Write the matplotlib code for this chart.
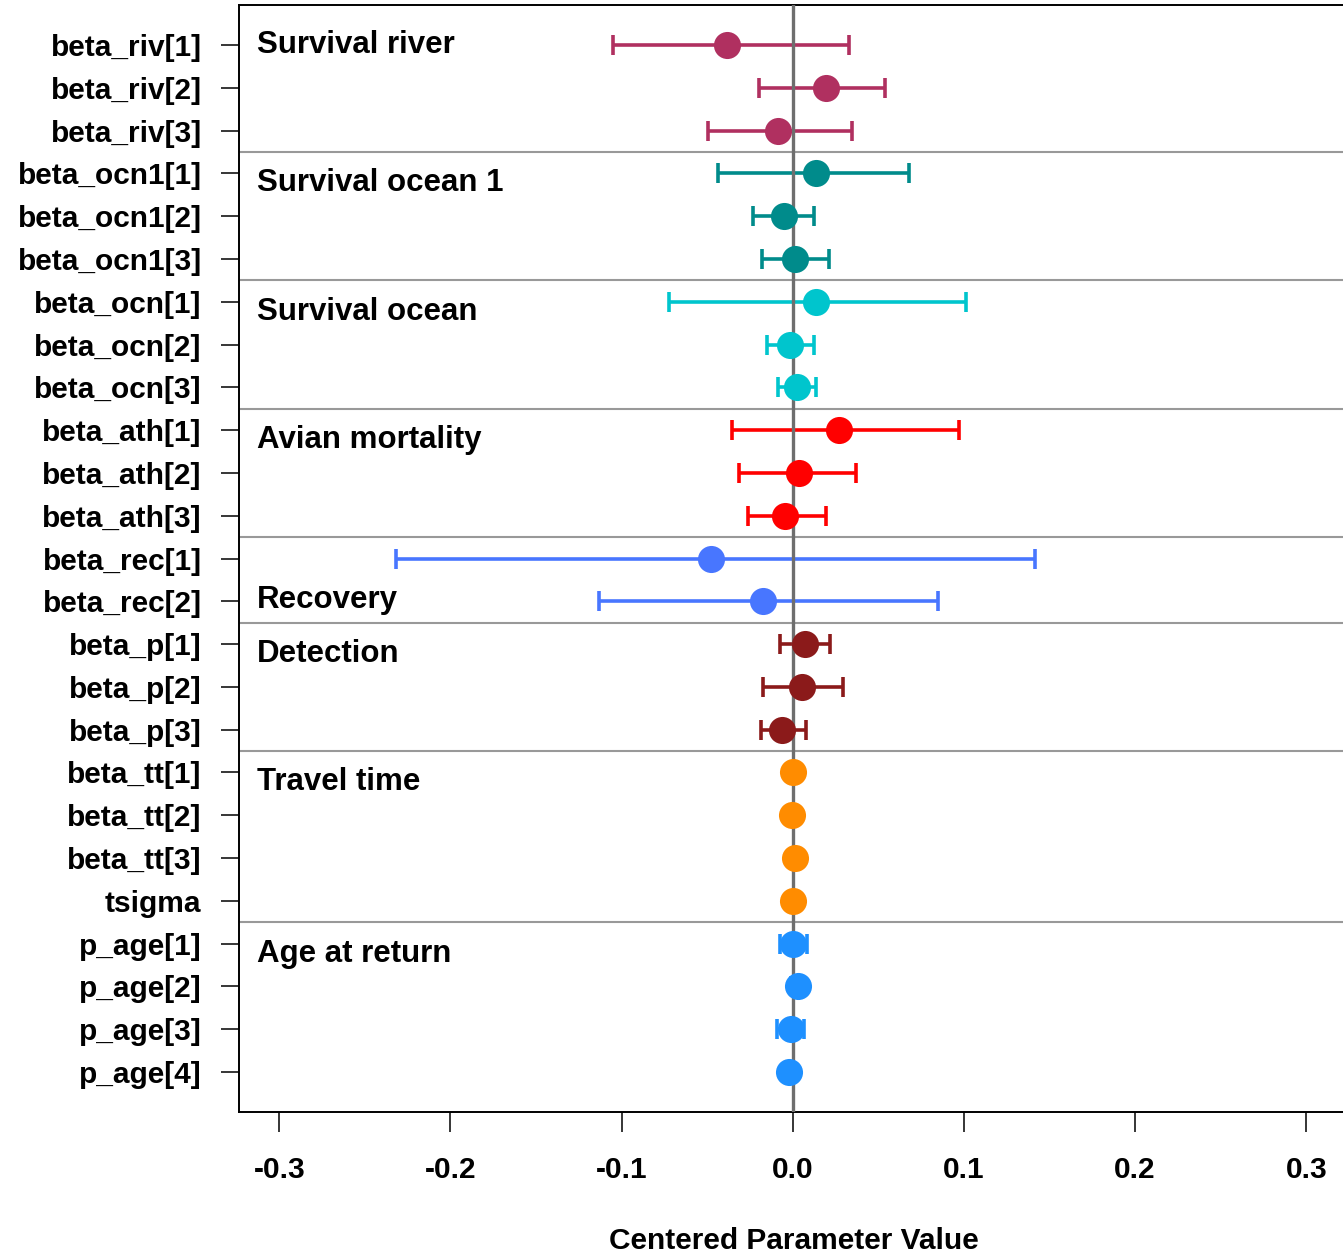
import numpy as np
import matplotlib
matplotlib.use("Agg")
import matplotlib.pyplot as plt

plt.rcParams['font.family'] = ['Liberation Sans', 'DejaVu Sans']
plt.rcParams['font.weight'] = 'bold'

# ---- data ----
params = ["beta_riv[1]", "beta_riv[2]", "beta_riv[3]",
          "beta_ocn1[1]", "beta_ocn1[2]", "beta_ocn1[3]",
          "beta_ocn[1]", "beta_ocn[2]", "beta_ocn[3]",
          "beta_ath[1]", "beta_ath[2]", "beta_ath[3]",
          "beta_rec[1]", "beta_rec[2]",
          "beta_p[1]", "beta_p[2]", "beta_p[3]",
          "beta_tt[1]", "beta_tt[2]", "beta_tt[3]", "tsigma",
          "p_age[1]", "p_age[2]", "p_age[3]", "p_age[4]"]
est = [-0.0386, 0.0195, -0.0086,
       0.0138, -0.0053, 0.0014,
       0.0135, -0.0018, 0.0025,
       0.0271, 0.0035, -0.0047,
       -0.0480, -0.0176,
       0.0072, 0.0056, -0.0061,
       0.0004, -0.0004, 0.0010, 0.0004,
       0.0002, 0.0031, -0.0012, -0.0022]
lower = [-0.1050, -0.0199, -0.0495,
         -0.0437, -0.0230, -0.0180,
         -0.0721, -0.0148, -0.0084,
         -0.0353, -0.0316, -0.0261,
         -0.2317, -0.1134,
         -0.0077, -0.0176, -0.0187,
         -0.0016, -0.0024, -0.0010, -0.0016,
         -0.0076, -0.0009, -0.0090, -0.0052]
upper = [0.0327, 0.0540, 0.0345,
         0.0680, 0.0121, 0.0212,
         0.1010, 0.0125, 0.0135,
         0.0973, 0.0372, 0.0193,
         0.1413, 0.0850,
         0.0218, 0.0294, 0.0077,
         0.0024, 0.0016, 0.0030, 0.0024,
         0.0082, 0.0071, 0.0066, 0.0008]
group_names = ["Survival river", "Survival ocean 1", "Survival ocean",
               "Avian mortality", "Recovery", "Detection", "Travel time",
               "Age at return"]
group_sizes = [3, 3, 3, 3, 2, 3, 4, 4]
group_colors = ["#B03060", "#008B8B", "#00C5CD", "#FF0000", "#4876FF",
                "#8B1A1A", "#FF8C00", "#1E90FF"]
group_label_rows = [0.99, 4.23, 7.24, 10.23, 13.97, 15.24, 18.23, 22.25]
xticks = [-0.3, -0.2, -0.1, 0.0, 0.1, 0.2, 0.3]
xlabel = "Centered Parameter Value"

# ---- figure ----
W, H = 1343, 1254
fig = plt.figure(figsize=(W / 100, H / 100), dpi=100)
left_px, right_px, top_px, bot_px = 238.7, 1350, 5, 1112
ax = fig.add_axes([left_px / W, 1 - bot_px / H,
                   (right_px - left_px) / W, (bot_px - top_px) / H])

zero_px, per_unit = 792.8, 1711.7
ax.set_xlim((left_px - zero_px) / per_unit, (right_px - zero_px) / per_unit)
ax.set_ylim(25.935, 0.065)

y = np.arange(1, len(params) + 1)
est_a, lo_a, hi_a = map(np.array, (est, lower, upper))

start = 0
for name, size, col, lrow in zip(group_names, group_sizes, group_colors, group_label_rows):
    idx = slice(start, start + size)
    ax.errorbar(est_a[idx], y[idx],
                xerr=[est_a[idx] - lo_a[idx], hi_a[idx] - est_a[idx]],
                fmt='none', ecolor=col, elinewidth=2.6, capsize=7.5,
                capthick=2.6, zorder=2)
    ax.plot(est_a[idx], y[idx], 'o', color=col, markersize=19.5,
            markeredgewidth=0, zorder=4)
    ax.text(-0.3133, lrow, name, fontsize=22.5, fontweight='bold',
            va='center', ha='left', color='black', zorder=5)
    if start > 0:
        ax.axhline(start + 0.5, color='#999999', linewidth=1.5, zorder=1)
    start += size

ax.axvline(0, color='#6e6e6e', linewidth=2.4, zorder=3)

ax.set_yticks(y)
ax.set_yticklabels(params, fontsize=21.5, fontweight='bold')
ax.set_xticks(xticks)
ax.set_xticklabels([f"{v:.1f}" for v in xticks], fontsize=21.5, fontweight='bold')
ax.tick_params(axis='y', length=13, width=1.1, pad=13.7)
ax.tick_params(axis='x', length=14.5, width=1.1, pad=17)
ax.set_xlabel(xlabel, fontsize=21.5, fontweight='bold', labelpad=31)

for s in ['left', 'bottom', 'top']:
    ax.spines[s].set_linewidth(1.4)
ax.spines['right'].set_visible(False)

fig.savefig("out.png", dpi=100)
